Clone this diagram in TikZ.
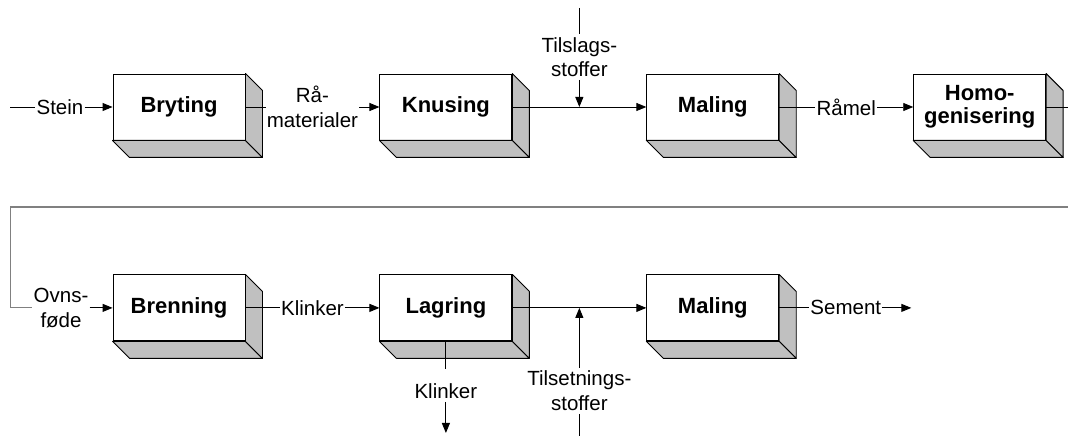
\documentclass[tikz,border=0pt]{standalone}
\usepackage{fontspec}
\setmainfont{Liberation Sans}
\usepackage{tikz}
\usetikzlibrary{arrows.meta,positioning,calc}
\definecolor{silver}{HTML}{C0C0C0}
\definecolor{retgray}{HTML}{808080}
\tikzset{
  box/.style={draw,fill=white,line width=.9pt,minimum width=132pt,minimum height=66pt,inner sep=2pt,align=center,font=\fontsize{22}{23}\selectfont\bfseries},
  face/.style={draw,fill=silver,line width=.9pt,line join=round},
  lbl/.style={inner xsep=1pt,inner ysep=3pt,align=center,font=\fontsize{20.5}{24.5}\selectfont},
  conn/.style={line width=.9pt},
  arrow/.style={conn,-{Triangle[length=10pt,width=8pt]}},
  ret/.style={line width=1.1pt,draw=retgray},
}
\begin{document}
\begin{tikzpicture}[x=1pt,y=1pt,node distance=134pt]
  \useasboundingbox (0,0) rectangle (1068,436);
  \node[box] (bryt) at (179,329) {Bryting};
  \node[box,right=of bryt] (knus) {Knusing};
  \node[box,right=of knus] (maling) {Maling};
  \node[box,right=of maling] (homo) {Homo-\\genisering};
  \node[box,below=of bryt] (brenn) {Brenning};
  \node[box,right=of brenn] (lagr) {Lagring};
  \node[box,right=of lagr] (maling2) {Maling};
  \foreach \b in {bryt,knus,maling,homo,brenn,lagr,maling2}{
    \draw[face] (\b.south west) -- (\b.south east) -- ++(17,-17) -- ([shift={(17,-17)}]\b.south west) -- cycle;
    \draw[face] (\b.north east) -- ++(17,-17) -- ([shift={(17,-17)}]\b.south east) -- (\b.south east) -- cycle;
  }
  % first row
  \node[lbl,left=28pt of bryt] (stein) {Stein};
  \coordinate[left=25pt of stein] (stein0);
  \draw[conn] (stein0) -- (stein);
  \draw[arrow] (stein) -- (bryt);
  \node[lbl] (ramat) at ($(bryt.east)!.5!(knus.west)$) {Rå-\\materialer};
  \draw[conn] (bryt) -- (ramat);
  \draw[arrow] (ramat) -- (knus);
  \draw[arrow] (knus) -- (maling);
  \coordinate (tilsIn) at ($(knus.east)!.5!(maling.west)$);
  \node[lbl,above=27pt of tilsIn] (tils) {Tilslags-\\stoffer};
  \coordinate (tilsTop) at (tils |- 0,428);
  \draw[conn] (tilsTop) -- (tils);
  \draw[arrow] (tils) -- (tilsIn);
  \node[lbl] (ramel) at ($(maling.east)!.5!(homo.west)$) {Råmel};
  \draw[conn] (maling) -- (ramel);
  \draw[arrow] (ramel) -- (homo);
  \coordinate[right=25pt of homo] (homoOut);
  \draw[conn] (homo) -- (homoOut);
  % second row
  \coordinate (retIn) at (1068,229);
  \node[lbl,left=23pt of brenn] (ovns) {Ovns-\\føde};
  \draw[ret] (retIn) -| (ovns.west -| stein0) -- (ovns);
  \draw[arrow] (ovns) -- (brenn);
  \node[lbl] (klink) at ($(brenn.east)!.5!(lagr.west)$) {Klinker};
  \draw[conn] (brenn) -- (klink);
  \draw[arrow] (klink) -- (lagr);
  \draw[arrow] (lagr) -- (maling2);
  \node[lbl,below=39pt of lagr] (klinkB) {Klinker};
  \coordinate (klinkEnd) at (klinkB |- 0,3);
  \draw[conn,shorten >=11pt] (lagr) -- (klinkB);
  \draw[arrow] (klinkB) -- (klinkEnd);
  \coordinate (tsetIn) at ($(lagr.east)!.5!(maling2.west)$);
  \node[lbl,below=60pt of tsetIn] (tset) {Tilsetnings-\\stoffer};
  \draw[arrow] (tset) -- (tsetIn);
  \draw[conn] (tset) -- (tset |- 0,0);
  \node[lbl,right=30pt of maling2] (sement) {Sement};
  \coordinate[right=29pt of sement] (sementEnd);
  \draw[conn] (maling2) -- (sement);
  \draw[arrow] (sement) -- (sementEnd);
\end{tikzpicture}
\end{document}
